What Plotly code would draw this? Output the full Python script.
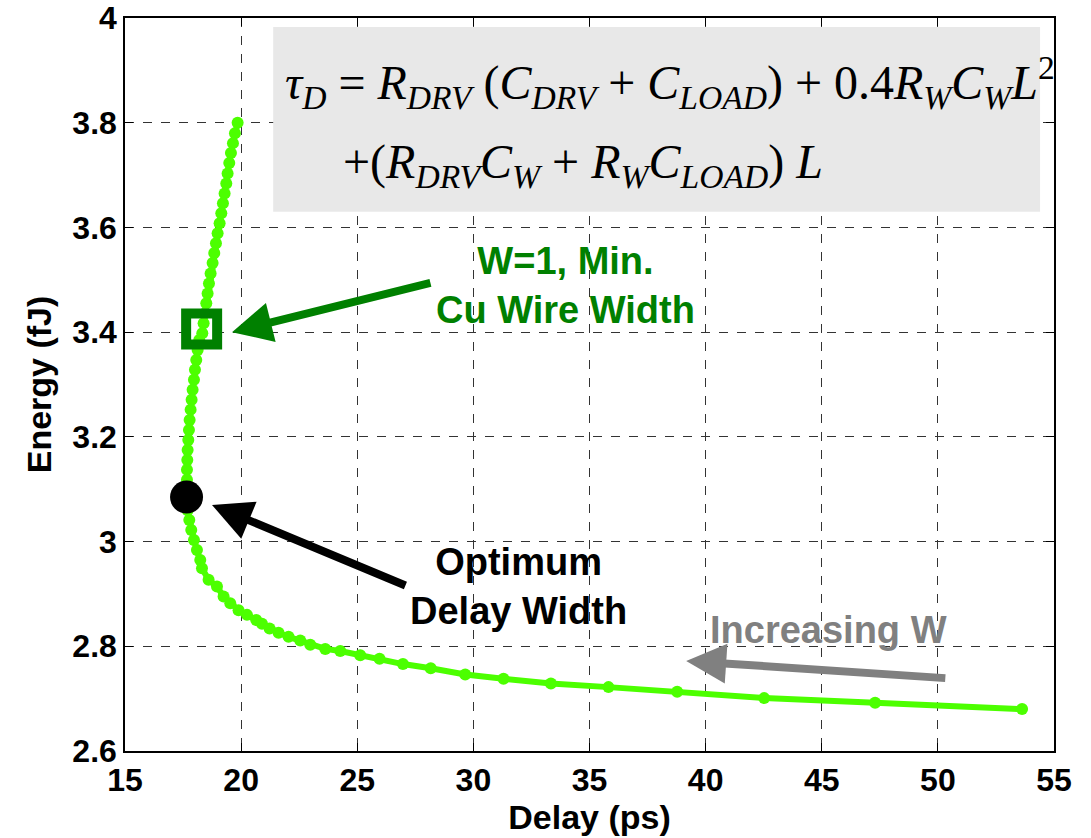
import plotly.graph_objects as go

# Curve (Delay in ps, Energy in fJ)
delay = [19.849, 19.734, 19.648, 19.562, 19.490, 19.418, 19.361, 19.289, 19.217, 19.146,
         19.074, 18.988, 18.916, 18.844, 18.772, 18.686, 18.615, 18.557, 18.500, 18.443,
         18.385, 18.328, 18.198, 18.127, 18.069, 18.012, 17.969, 17.911, 17.868, 17.825,
         17.782, 17.754, 17.725, 17.696, 17.682, 17.668, 17.668, 17.668, 17.668, 17.696,
         17.768, 17.854, 17.969, 18.098, 18.241, 18.315, 18.599, 18.960, 19.245, 19.533,
         19.890, 20.252, 20.652, 20.898, 21.225, 21.612, 22.043, 22.546, 22.977, 23.623,
         24.268, 25.129, 25.960, 26.967, 28.164, 29.649, 31.298, 33.338, 35.818, 38.775,
         42.520, 47.298, 53.625]
energy = [3.800, 3.780, 3.761, 3.742, 3.723, 3.703, 3.684, 3.665, 3.646, 3.627,
          3.608, 3.589, 3.570, 3.551, 3.532, 3.512, 3.493, 3.474, 3.455, 3.436,
          3.417, 3.398, 3.385, 3.366, 3.347, 3.328, 3.309, 3.290, 3.271, 3.252,
          3.232, 3.213, 3.194, 3.175, 3.156, 3.137, 3.118, 3.099, 3.079, 3.060,
          3.041, 3.022, 3.003, 2.984, 2.965, 2.949, 2.927, 2.914, 2.895, 2.882,
          2.869, 2.860, 2.850, 2.843, 2.834, 2.826, 2.818, 2.811, 2.803, 2.795,
          2.791, 2.783, 2.776, 2.766, 2.758, 2.746, 2.738, 2.729, 2.722, 2.713,
          2.701, 2.692, 2.680]

w1_delay, w1_energy = [18.30], [3.406]
opt_delay, opt_energy = [17.65], [3.085]

x_ticks = [15, 20, 25, 30, 35, 40, 45, 50, 55]
x_ticktext = ["15", "20", "25", "30", "35", "40", "45", "50", "55"]
y_ticks = [2.6, 2.8, 3.0, 3.2, 3.4, 3.6, 3.8, 4.0]
y_ticktext = ["2.6", "2.8", "3", "3.2", "3.4", "3.6", "3.8", "4"]

GREEN = "#4CFF00"
DKGREEN = "#008000"
SANS = "Liberation Sans, Arial, sans-serif"
SERIF = "Liberation Serif, Times New Roman, serif"

fig = go.Figure()
fig.add_trace(go.Scatter(x=delay, y=energy, mode="lines+markers",
                         line=dict(color=GREEN, width=6),
                         marker=dict(color=GREEN, size=12),
                         showlegend=False, hoverinfo="skip"))
fig.add_trace(go.Scatter(x=w1_delay, y=w1_energy, mode="markers",
                         marker=dict(symbol="square-open", size=31,
                                     color=DKGREEN, line=dict(color=DKGREEN, width=10)),
                         showlegend=False))
fig.add_trace(go.Scatter(x=opt_delay, y=opt_energy, mode="markers",
                         marker=dict(symbol="circle", size=33, color="black"),
                         showlegend=False))

# equation box
fig.add_shape(type="rect", xref="x", yref="y", x0=21.38, x1=54.40, y0=3.630, y1=3.983,
              fillcolor="#E8E8E8", line=dict(width=0), layer="above")

eq1 = ("<i>τ</i><sub><i>D</i></sub> = <i>R</i><sub><i>DRV</i></sub> (<i>C</i><sub><i>DRV</i></sub>"
       " + <i>C</i><sub><i>LOAD</i></sub>) + 0.4<i>R</i><sub><i>W</i></sub><i>C</i><sub><i>W</i></sub>"
       "<i>L</i><sup>2</sup>")
eq2 = ("+(<i>R</i><sub><i>DRV</i></sub><i>C</i><sub><i>W</i></sub> + <i>R</i><sub><i>W</i></sub>"
       "<i>C</i><sub><i>LOAD</i></sub>) <i>L</i>")

ann = []
ann.append(dict(x=0.17, y=0.912, xref="paper", yref="paper", text=eq1, showarrow=False,
                xanchor="left", yanchor="middle", font=dict(family=SERIF, size=48, color="black")))
ann.append(dict(x=0.232, y=0.80, xref="paper", yref="paper", text=eq2, showarrow=False,
                xanchor="left", yanchor="middle", font=dict(family=SERIF, size=48, color="black")))

# text labels
ann.append(dict(x=33.95, y=3.49, xref="x", yref="y", text="W=1, Min.<br>Cu Wire Width",
                showarrow=False, align="center",
                font=dict(family=SANS, size=38, color=DKGREEN, weight="bold")))
ann.append(dict(x=31.93, y=2.915, xref="x", yref="y", text="Optimum<br>Delay Width",
                showarrow=False, align="center",
                font=dict(family=SANS, size=38, color="black", weight="bold")))
ann.append(dict(x=45.3, y=2.831, xref="x", yref="y", text="Increasing W",
                showarrow=False, align="center",
                font=dict(family=SANS, size=38, color="#808080", weight="bold")))

# arrows
for (tx, ty, sx, sy, col) in [(19.606, 3.400, 28.216, 3.495, DKGREEN),
                              (18.745, 3.070, 27.139, 2.915, "black"),
                              (39.163, 2.772, 50.385, 2.739, "#808080")]:
    ann.append(dict(x=tx, y=ty, ax=sx, ay=sy, xref="x", yref="y", axref="x", ayref="y",
                    text="", showarrow=True, arrowhead=2, arrowsize=1.0, arrowwidth=8,
                    arrowcolor=col, standoff=0, startstandoff=0))

fig.update_layout(
    width=1091, height=838,
    margin=dict(l=125, r=37, t=18, b=87),
    paper_bgcolor="white", plot_bgcolor="white",
    annotations=ann,
    font=dict(family=SANS, color="black"),
)
common = dict(showgrid=True, gridcolor="#333333", griddash="dash", gridwidth=1,
              showline=True, linecolor="black", linewidth=1.5, mirror="ticks",
              ticks="inside", ticklen=8, tickcolor="black", zeroline=False, automargin=False,
              tickfont=dict(family=SANS, size=32, color="black", weight="bold"))
fig.update_xaxes(range=[15, 55], tickvals=x_ticks, ticktext=x_ticktext, **common,
                 title=dict(text="Delay (ps)", standoff=4,
                            font=dict(family=SANS, size=34, color="black", weight="bold")))
fig.update_yaxes(range=[2.6, 4.0], tickvals=y_ticks, ticktext=y_ticktext, **common,
                 title=dict(text="Energy (fJ)", standoff=10,
                            font=dict(family=SANS, size=34, color="black", weight="bold")))

fig.write_html("out.html")
